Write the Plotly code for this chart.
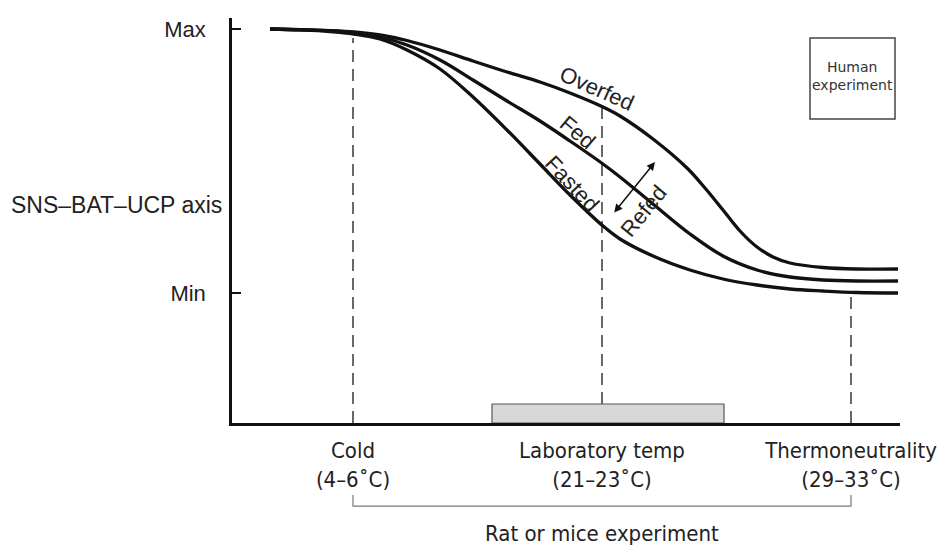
import plotly.graph_objects as go

# ---------------- data (arbitrary units) ----------------
# x: position along ambient temperature axis, y: SNS-BAT-UCP activity level
overfed_x = [38, 68, 98, 122, 148, 175, 208, 241, 275, 308, 338, 371, 388, 421, 455, 473, 491, 508, 525, 541, 558, 591, 625, 666]
overfed_y = [394, 393.4, 392.4, 391, 388, 382.5, 373, 362, 351, 341, 330, 316, 307, 284, 255, 235, 213, 192, 176, 166, 160, 155.5, 154, 154]

fed_x = [38, 68, 98, 122, 148, 175, 208, 241, 275, 308, 338, 371, 388, 421, 458, 491, 525, 558, 591, 625, 666]
fed_y = [394, 393.2, 392, 390, 386, 378, 363, 343, 322, 302, 282, 259, 246, 219, 189, 167, 153, 146, 143, 142, 142]

fasted_x = [38, 68, 98, 122, 148, 175, 208, 241, 275, 308, 338, 371, 388, 421, 458, 491, 525, 558, 591, 625, 666]
fasted_y = [394, 393.1, 391.5, 389, 384, 373, 354, 326, 293, 259, 228, 197, 184, 167, 153, 144, 138, 134, 132, 130.5, 130]

curve_names = ["Overfed", "Fed", "Fasted"]

# y-axis ticks
y_tick_vals = [130, 394]
y_tick_text = ["Min", "Max"]

# temperature categories on the x axis
temp_x = [121, 370, 619]
temp_labels = ["Cold<br>(4\u20136\u02daC)", "Laboratory temp<br>(21\u201323\u02daC)", "Thermoneutrality<br>(29\u201333\u02daC)"]
ref_top = [385, 315, 128]          # top of each dashed reference line

lab_band = [260, 492]              # laboratory temperature range band
lab_band_height = 19

human_box_x = [578, 663]
human_box_y = [304, 385]
human_text_pos = (620.5, 347)

refed_arrow = [(381, 209), (423, 261)]

X_RANGE = [0, 668]
Y_RANGE = [0, 405]

COND = "DejaVu Sans Condensed, Liberation Sans Narrow, sans-serif"
SANS = "Liberation Sans, Arial, sans-serif"

# ---------------- figure ----------------
fig = go.Figure()

for name, xs, ys in zip(curve_names, [overfed_x, fed_x, fasted_x], [overfed_y, fed_y, fasted_y]):
    fig.add_trace(go.Scatter(x=xs, y=ys, mode="lines", name=name,
                             line=dict(color="#111111", width=3.3, shape="spline", smoothing=1.0),
                             hoverinfo="skip", showlegend=False))

shapes = []
for xv, top in zip(temp_x, ref_top):
    shapes.append(dict(type="line", xref="x", yref="y", x0=xv, x1=xv, y0=0, y1=top,
                       line=dict(color="#444444", width=1.6, dash="12px,7px"), layer="below"))

shapes.append(dict(type="rect", xref="x", yref="y", x0=lab_band[0], x1=lab_band[1], y0=0, y1=lab_band_height,
                   fillcolor="#d8d8d8", line=dict(color="#555555", width=1.2), layer="below"))

shapes.append(dict(type="rect", xref="x", yref="y", x0=human_box_x[0], x1=human_box_x[1],
                   y0=human_box_y[0], y1=human_box_y[1], fillcolor="rgba(0,0,0,0)",
                   line=dict(color="#444444", width=1.5)))

# bracket under the axis labels
b_top, b_bot = -0.178, -0.205
shapes.append(dict(type="path", xref="x", yref="paper",
                   path=f"M {temp_x[0]},{b_top} L {temp_x[0]},{b_bot} L {temp_x[2]},{b_bot} L {temp_x[2]},{b_top}",
                   line=dict(color="#777777", width=1.2)))

annotations = [
    dict(x=-0.012, y=218, xref="paper", yref="y", text="SNS\u2013BAT\u2013UCP axis", showarrow=False,
         xanchor="right", yanchor="middle", font=dict(size=23, color="#222222", family=SANS)),
    dict(x=365, y=335, text="Overfed", textangle=24, showarrow=False,
         font=dict(size=22, color="#222222", family=SANS)),
    dict(x=346, y=291, text="Fed", textangle=40, showarrow=False,
         font=dict(size=22, color="#222222", family=SANS)),
    dict(x=340, y=240, text="Fasted", textangle=47, showarrow=False,
         font=dict(size=22, color="#222222", family=SANS)),
    dict(x=411, y=212, text="Refed", textangle=-51, showarrow=False,
         font=dict(size=22, color="#222222", family=SANS)),
    dict(x=refed_arrow[1][0], y=refed_arrow[1][1], ax=refed_arrow[0][0], ay=refed_arrow[0][1],
         axref="x", ayref="y", xref="x", yref="y", text="", showarrow=True,
         arrowhead=2, startarrowhead=2, arrowside="end+start", arrowsize=1.1, arrowwidth=1.5, arrowcolor="#111111"),
    dict(x=human_text_pos[0], y=human_text_pos[1], text="Human<br>experiment", showarrow=False,
         font=dict(size=14, color="#333333", family="DejaVu Sans, sans-serif")),
    dict(x=temp_x[1], y=-0.272, xref="x", yref="paper", text="Rat or mice experiment", showarrow=False,
         yanchor="middle", font=dict(size=22, color="#222222", family=COND)),
]

fig.update_layout(
    width=945, height=547,
    margin=dict(l=232, r=45, t=18, b=124, autoexpand=False),
    paper_bgcolor="white", plot_bgcolor="white",
    shapes=shapes, annotations=annotations,
    xaxis=dict(range=X_RANGE, showgrid=False, zeroline=False, showline=True, linecolor="#111111", linewidth=2.5,
               tickvals=temp_x, ticktext=temp_labels, ticks="", ticklabelstandoff=6, automargin=False,
               ticklabeloverflow="allow",
               tickfont=dict(size=22, color="#222222", family=COND)),
    yaxis=dict(range=Y_RANGE, showgrid=False, zeroline=False, showline=True, linecolor="#111111", linewidth=2.5,
               tickvals=y_tick_vals, ticktext=y_tick_text, ticks="inside", ticklen=9, tickwidth=1.5,
               tickcolor="#111111", ticklabelstandoff=19, automargin=False,
               tickfont=dict(size=22, color="#222222", family=SANS)),
)

fig.write_html("out.html", config={"displayModeBar": False},
               post_script="document.body.style.margin='0';document.body.style.overflow='hidden';")
